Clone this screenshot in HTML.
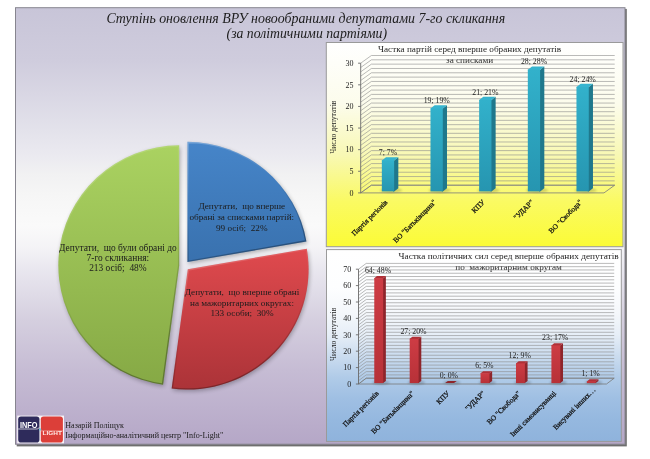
<!DOCTYPE html>
<html lang="uk"><head><meta charset="utf-8"><title>Ступінь оновлення ВРУ</title>
<style>
html,body{margin:0;padding:0;background:#fff;}
body{width:650px;height:459px;overflow:hidden;}
svg{display:block}
text{font-family:"Liberation Serif", serif;fill:#1c1c1c}
.t{font-size:9.2px;text-anchor:middle;white-space:pre}
.ax{font-size:8px;text-anchor:end}
.dl{font-size:7.8px;text-anchor:middle}
.cat{font-size:7.3px;text-anchor:end;fill:#111;stroke:#111;stroke-width:0.25px}
.g line{stroke:#8c8c8c;stroke-width:0.6}
.gm line{stroke:#777;stroke-width:0.9}
</style></head><body>
<svg width="650" height="459" viewBox="0 0 650 459">
<defs>
<linearGradient id="bg" x1="0" y1="0" x2="0" y2="1">
<stop offset="0" stop-color="#c8c5d8"/><stop offset="0.12" stop-color="#cfccdd"/><stop offset="0.28" stop-color="#e3e2eb"/><stop offset="0.34" stop-color="#ebeaf0"/><stop offset="0.38" stop-color="#f1f1f2"/><stop offset="0.43" stop-color="#f6f6f6"/><stop offset="0.5" stop-color="#fafafa"/><stop offset="0.55" stop-color="#f4f3f6"/><stop offset="0.6" stop-color="#e9e7ef"/><stop offset="0.715" stop-color="#d5cfdf"/><stop offset="0.83" stop-color="#c6bcd4"/><stop offset="1" stop-color="#b5a7c7"/>
</linearGradient>
<linearGradient id="yel" x1="0" y1="0" x2="0" y2="1">
<stop offset="0" stop-color="#ffffff"/><stop offset="0.3" stop-color="#fcfcec"/><stop offset="0.55" stop-color="#f8f8b4"/><stop offset="0.78" stop-color="#fafa62"/><stop offset="1" stop-color="#fbfb36"/>
</linearGradient>
<linearGradient id="blu" x1="0" y1="0" x2="0" y2="1">
<stop offset="0" stop-color="#ffffff"/><stop offset="0.2" stop-color="#fdfeff"/><stop offset="0.334" stop-color="#f4f7fb"/><stop offset="0.445" stop-color="#e6eef7"/><stop offset="0.555" stop-color="#cbdcef"/><stop offset="0.667" stop-color="#b0cbe8"/><stop offset="0.777" stop-color="#9fbfe3"/><stop offset="0.888" stop-color="#95b8df"/><stop offset="1" stop-color="#8fb3dc"/>
</linearGradient>
<linearGradient id="pg" x1="0" y1="0" x2="0" y2="1"><stop offset="0" stop-color="#aad261"/><stop offset="1" stop-color="#86a945"/></linearGradient>
<linearGradient id="pb" x1="0" y1="0" x2="0" y2="1"><stop offset="0" stop-color="#4685c9"/><stop offset="1" stop-color="#3971ae"/></linearGradient>
<linearGradient id="pr" x1="0" y1="0" x2="0" y2="1"><stop offset="0" stop-color="#e04a4e"/><stop offset="1" stop-color="#ab3338"/></linearGradient>
<linearGradient id="tf" x1="0" y1="0" x2="0" y2="1"><stop offset="0" stop-color="#32b1cb"/><stop offset="1" stop-color="#2695b0"/></linearGradient>
<linearGradient id="rf" x1="0" y1="0" x2="0" y2="1"><stop offset="0" stop-color="#cd3c44"/><stop offset="1" stop-color="#b73138"/></linearGradient>
<linearGradient id="bev" x1="0" y1="0" x2="0.35" y2="1"><stop offset="0" stop-color="#fff" stop-opacity="0.28"/><stop offset="0.45" stop-color="#fff" stop-opacity="0.0"/><stop offset="0.55" stop-color="#000" stop-opacity="0.0"/><stop offset="1" stop-color="#000" stop-opacity="0.3"/></linearGradient>
<filter id="sh" x="-10%" y="-10%" width="120%" height="120%"><feGaussianBlur stdDeviation="2.2"/></filter>
<filter id="sh1" x="-50%" y="-50%" width="200%" height="200%"><feGaussianBlur stdDeviation="1.2"/></filter>
</defs>

<rect x="16.7" y="8.9" width="610.1" height="437.5" fill="#6e6e6e"/>
<rect x="15.5" y="7.7" width="609.5" height="436.5" fill="url(#bg)" stroke="#87858f" stroke-width="1"/>
<text x="305.8" y="22.6" text-anchor="middle" font-style="italic" font-size="13.9">Ступінь оновлення ВРУ новообраними депутатами 7-го скликання</text>
<text x="306.8" y="38.2" text-anchor="middle" font-style="italic" font-size="13.75">(за політичними партіями)</text>
<g filter="url(#sh)" opacity="0.28" transform="translate(1,1.8)">
<path d="M187.42,262.07 L187.42,141.87 A120.8,120.2 0 0 1 306.41,241.39 Z" fill="#000"/>
<path d="M187.80,269.37 L306.80,248.68 A120.8,120.2 0 0 1 171.65,388.49 Z" fill="#000"/>
<path d="M179.21,265.56 L163.06,384.69 A120.8,120.2 0 0 1 179.21,145.36 Z" fill="#000"/>
</g>
<clipPath id="cp0"><path d="M187.42,262.07 L187.42,141.87 A120.8,120.2 0 0 1 306.41,241.39 Z"/></clipPath>
<path d="M187.42,262.07 L187.42,141.87 A120.8,120.2 0 0 1 306.41,241.39 Z" fill="url(#pb)"/>
<path d="M187.42,262.07 L187.42,141.87 A120.8,120.2 0 0 1 306.41,241.39 Z" fill="none" stroke="url(#bev)" stroke-width="2.6" clip-path="url(#cp0)"/>
<clipPath id="cp1"><path d="M187.80,269.37 L306.80,248.68 A120.8,120.2 0 0 1 171.65,388.49 Z"/></clipPath>
<path d="M187.80,269.37 L306.80,248.68 A120.8,120.2 0 0 1 171.65,388.49 Z" fill="url(#pr)"/>
<path d="M187.80,269.37 L306.80,248.68 A120.8,120.2 0 0 1 171.65,388.49 Z" fill="none" stroke="url(#bev)" stroke-width="2.6" clip-path="url(#cp1)"/>
<clipPath id="cp2"><path d="M179.21,265.56 L163.06,384.69 A120.8,120.2 0 0 1 179.21,145.36 Z"/></clipPath>
<path d="M179.21,265.56 L163.06,384.69 A120.8,120.2 0 0 1 179.21,145.36 Z" fill="url(#pg)"/>
<path d="M179.21,265.56 L163.06,384.69 A120.8,120.2 0 0 1 179.21,145.36 Z" fill="none" stroke="url(#bev)" stroke-width="2.6" clip-path="url(#cp2)"/>
<text x="241.8" y="209.2" class="t" xml:space="preserve">Депутати,  що вперше</text>
<text x="241.8" y="220.0" class="t" xml:space="preserve">обрані за списками партій:</text>
<text x="241.8" y="230.6" class="t" xml:space="preserve">99 осіб;  22%</text>
<text x="242.0" y="295.3" class="t" xml:space="preserve">Депутати,  що вперше обрані</text>
<text x="242.0" y="306.2" class="t" xml:space="preserve">на мажоритарних округах:</text>
<text x="242.0" y="316.3" class="t" xml:space="preserve">133 особи;  30%</text>
<text x="117.9" y="250.9" class="t" xml:space="preserve" style="font-size:9.42px">Депутати,  що були обрані до</text>
<text x="117.9" y="261.0" class="t" xml:space="preserve" style="font-size:9.42px">7-го скликання:</text>
<text x="117.9" y="271.3" class="t" xml:space="preserve" style="font-size:9.42px">213 осіб;  48%</text>
<rect x="326.3" y="42.5" width="296.7" height="204.2" fill="url(#yel)" stroke="#9a9a9a" stroke-width="1"/>
<text x="469.6" y="51.6" class="t" xml:space="preserve">Частка партій серед вперше обраних депутатів</text>
<text x="469.6" y="62.6" class="t" xml:space="preserve">за списками</text>
<g class="g">
<line x1="360.70" y1="192.90" x2="371.40" y2="185.20" stroke="rgba(60,60,45,0.52)" stroke-width="0.8"/>
<line x1="371.40" y1="185.20" x2="614.70" y2="185.20" stroke="rgba(60,60,45,0.52)" stroke-width="0.8"/>
<line x1="360.70" y1="188.58" x2="371.40" y2="180.88" stroke="rgba(70,70,55,0.30)" stroke-width="0.5"/>
<line x1="371.40" y1="180.88" x2="614.70" y2="180.88" stroke="rgba(70,70,55,0.30)" stroke-width="0.5"/>
<line x1="360.70" y1="184.25" x2="371.40" y2="176.55" stroke="rgba(70,70,55,0.30)" stroke-width="0.5"/>
<line x1="371.40" y1="176.55" x2="614.70" y2="176.55" stroke="rgba(70,70,55,0.30)" stroke-width="0.5"/>
<line x1="360.70" y1="179.93" x2="371.40" y2="172.23" stroke="rgba(70,70,55,0.30)" stroke-width="0.5"/>
<line x1="371.40" y1="172.23" x2="614.70" y2="172.23" stroke="rgba(70,70,55,0.30)" stroke-width="0.5"/>
<line x1="360.70" y1="175.61" x2="371.40" y2="167.91" stroke="rgba(70,70,55,0.30)" stroke-width="0.5"/>
<line x1="371.40" y1="167.91" x2="614.70" y2="167.91" stroke="rgba(70,70,55,0.30)" stroke-width="0.5"/>
<line x1="360.70" y1="171.28" x2="371.40" y2="163.58" stroke="rgba(60,60,45,0.52)" stroke-width="0.8"/>
<line x1="371.40" y1="163.58" x2="614.70" y2="163.58" stroke="rgba(60,60,45,0.52)" stroke-width="0.8"/>
<line x1="360.70" y1="166.96" x2="371.40" y2="159.26" stroke="rgba(70,70,55,0.30)" stroke-width="0.5"/>
<line x1="371.40" y1="159.26" x2="614.70" y2="159.26" stroke="rgba(70,70,55,0.30)" stroke-width="0.5"/>
<line x1="360.70" y1="162.64" x2="371.40" y2="154.94" stroke="rgba(70,70,55,0.30)" stroke-width="0.5"/>
<line x1="371.40" y1="154.94" x2="614.70" y2="154.94" stroke="rgba(70,70,55,0.30)" stroke-width="0.5"/>
<line x1="360.70" y1="158.31" x2="371.40" y2="150.61" stroke="rgba(70,70,55,0.30)" stroke-width="0.5"/>
<line x1="371.40" y1="150.61" x2="614.70" y2="150.61" stroke="rgba(70,70,55,0.30)" stroke-width="0.5"/>
<line x1="360.70" y1="153.99" x2="371.40" y2="146.29" stroke="rgba(70,70,55,0.30)" stroke-width="0.5"/>
<line x1="371.40" y1="146.29" x2="614.70" y2="146.29" stroke="rgba(70,70,55,0.30)" stroke-width="0.5"/>
<line x1="360.70" y1="149.67" x2="371.40" y2="141.97" stroke="rgba(60,60,45,0.52)" stroke-width="0.8"/>
<line x1="371.40" y1="141.97" x2="614.70" y2="141.97" stroke="rgba(60,60,45,0.52)" stroke-width="0.8"/>
<line x1="360.70" y1="145.34" x2="371.40" y2="137.64" stroke="rgba(70,70,55,0.30)" stroke-width="0.5"/>
<line x1="371.40" y1="137.64" x2="614.70" y2="137.64" stroke="rgba(70,70,55,0.30)" stroke-width="0.5"/>
<line x1="360.70" y1="141.02" x2="371.40" y2="133.32" stroke="rgba(70,70,55,0.30)" stroke-width="0.5"/>
<line x1="371.40" y1="133.32" x2="614.70" y2="133.32" stroke="rgba(70,70,55,0.30)" stroke-width="0.5"/>
<line x1="360.70" y1="136.70" x2="371.40" y2="129.00" stroke="rgba(70,70,55,0.30)" stroke-width="0.5"/>
<line x1="371.40" y1="129.00" x2="614.70" y2="129.00" stroke="rgba(70,70,55,0.30)" stroke-width="0.5"/>
<line x1="360.70" y1="132.37" x2="371.40" y2="124.67" stroke="rgba(70,70,55,0.30)" stroke-width="0.5"/>
<line x1="371.40" y1="124.67" x2="614.70" y2="124.67" stroke="rgba(70,70,55,0.30)" stroke-width="0.5"/>
<line x1="360.70" y1="128.05" x2="371.40" y2="120.35" stroke="rgba(60,60,45,0.52)" stroke-width="0.8"/>
<line x1="371.40" y1="120.35" x2="614.70" y2="120.35" stroke="rgba(60,60,45,0.52)" stroke-width="0.8"/>
<line x1="360.70" y1="123.73" x2="371.40" y2="116.03" stroke="rgba(70,70,55,0.30)" stroke-width="0.5"/>
<line x1="371.40" y1="116.03" x2="614.70" y2="116.03" stroke="rgba(70,70,55,0.30)" stroke-width="0.5"/>
<line x1="360.70" y1="119.40" x2="371.40" y2="111.70" stroke="rgba(70,70,55,0.30)" stroke-width="0.5"/>
<line x1="371.40" y1="111.70" x2="614.70" y2="111.70" stroke="rgba(70,70,55,0.30)" stroke-width="0.5"/>
<line x1="360.70" y1="115.08" x2="371.40" y2="107.38" stroke="rgba(70,70,55,0.30)" stroke-width="0.5"/>
<line x1="371.40" y1="107.38" x2="614.70" y2="107.38" stroke="rgba(70,70,55,0.30)" stroke-width="0.5"/>
<line x1="360.70" y1="110.76" x2="371.40" y2="103.06" stroke="rgba(70,70,55,0.30)" stroke-width="0.5"/>
<line x1="371.40" y1="103.06" x2="614.70" y2="103.06" stroke="rgba(70,70,55,0.30)" stroke-width="0.5"/>
<line x1="360.70" y1="106.43" x2="371.40" y2="98.73" stroke="rgba(60,60,45,0.52)" stroke-width="0.8"/>
<line x1="371.40" y1="98.73" x2="614.70" y2="98.73" stroke="rgba(60,60,45,0.52)" stroke-width="0.8"/>
<line x1="360.70" y1="102.11" x2="371.40" y2="94.41" stroke="rgba(70,70,55,0.30)" stroke-width="0.5"/>
<line x1="371.40" y1="94.41" x2="614.70" y2="94.41" stroke="rgba(70,70,55,0.30)" stroke-width="0.5"/>
<line x1="360.70" y1="97.79" x2="371.40" y2="90.09" stroke="rgba(70,70,55,0.30)" stroke-width="0.5"/>
<line x1="371.40" y1="90.09" x2="614.70" y2="90.09" stroke="rgba(70,70,55,0.30)" stroke-width="0.5"/>
<line x1="360.70" y1="93.46" x2="371.40" y2="85.76" stroke="rgba(70,70,55,0.30)" stroke-width="0.5"/>
<line x1="371.40" y1="85.76" x2="614.70" y2="85.76" stroke="rgba(70,70,55,0.30)" stroke-width="0.5"/>
<line x1="360.70" y1="89.14" x2="371.40" y2="81.44" stroke="rgba(70,70,55,0.30)" stroke-width="0.5"/>
<line x1="371.40" y1="81.44" x2="614.70" y2="81.44" stroke="rgba(70,70,55,0.30)" stroke-width="0.5"/>
<line x1="360.70" y1="84.82" x2="371.40" y2="77.12" stroke="rgba(60,60,45,0.52)" stroke-width="0.8"/>
<line x1="371.40" y1="77.12" x2="614.70" y2="77.12" stroke="rgba(60,60,45,0.52)" stroke-width="0.8"/>
<line x1="360.70" y1="80.49" x2="371.40" y2="72.79" stroke="rgba(70,70,55,0.30)" stroke-width="0.5"/>
<line x1="371.40" y1="72.79" x2="614.70" y2="72.79" stroke="rgba(70,70,55,0.30)" stroke-width="0.5"/>
<line x1="360.70" y1="76.17" x2="371.40" y2="68.47" stroke="rgba(70,70,55,0.30)" stroke-width="0.5"/>
<line x1="371.40" y1="68.47" x2="614.70" y2="68.47" stroke="rgba(70,70,55,0.30)" stroke-width="0.5"/>
<line x1="360.70" y1="71.85" x2="371.40" y2="64.15" stroke="rgba(70,70,55,0.30)" stroke-width="0.5"/>
<line x1="371.40" y1="64.15" x2="614.70" y2="64.15" stroke="rgba(70,70,55,0.30)" stroke-width="0.5"/>
<line x1="360.70" y1="67.52" x2="371.40" y2="59.82" stroke="rgba(70,70,55,0.30)" stroke-width="0.5"/>
<line x1="371.40" y1="59.82" x2="614.70" y2="59.82" stroke="rgba(70,70,55,0.30)" stroke-width="0.5"/>
<line x1="360.70" y1="63.20" x2="371.40" y2="55.50" stroke="rgba(60,60,45,0.52)" stroke-width="0.8"/>
<line x1="371.40" y1="55.50" x2="614.70" y2="55.50" stroke="rgba(60,60,45,0.52)" stroke-width="0.8"/>
</g>
<path d="M360.7,192.9 L604.0,192.9 L614.7,185.20000000000002 L371.4,185.20000000000002 Z" fill="none" stroke="#7a7a7a" stroke-width="0.8"/>
<line x1="360.7" y1="192.9" x2="360.7" y2="63.2" stroke="#6a6a6a" stroke-width="0.9"/>
<line x1="358.09999999999997" y1="192.90" x2="360.7" y2="192.90" stroke="#6a6a6a" stroke-width="0.9"/>
<text x="353.4" y="195.60" class="ax">0</text>
<line x1="358.09999999999997" y1="171.28" x2="360.7" y2="171.28" stroke="#6a6a6a" stroke-width="0.9"/>
<text x="353.4" y="173.98" class="ax">5</text>
<line x1="358.09999999999997" y1="149.67" x2="360.7" y2="149.67" stroke="#6a6a6a" stroke-width="0.9"/>
<text x="353.4" y="152.37" class="ax">10</text>
<line x1="358.09999999999997" y1="128.05" x2="360.7" y2="128.05" stroke="#6a6a6a" stroke-width="0.9"/>
<text x="353.4" y="130.75" class="ax">15</text>
<line x1="358.09999999999997" y1="106.43" x2="360.7" y2="106.43" stroke="#6a6a6a" stroke-width="0.9"/>
<text x="353.4" y="109.13" class="ax">20</text>
<line x1="358.09999999999997" y1="84.82" x2="360.7" y2="84.82" stroke="#6a6a6a" stroke-width="0.9"/>
<text x="353.4" y="87.52" class="ax">25</text>
<line x1="358.09999999999997" y1="63.20" x2="360.7" y2="63.20" stroke="#6a6a6a" stroke-width="0.9"/>
<text x="353.4" y="65.90" class="ax">30</text>
<text transform="translate(335.5,127.2) rotate(-90)" font-size="7.7" text-anchor="middle">Число депутатів</text>
<ellipse cx="391.08" cy="190.30" rx="11.25" ry="2.2" fill="#000" opacity="0.18" filter="url(#sh1)"/>
<path d="M393.13,160.44 L394.13,160.44 L398.33,157.24 L398.33,188.20 L394.13,191.40 L393.13,191.40 Z" fill="#1f788c"/>
<path d="M381.83,160.94 L394.13,160.94 L394.13,160.44 L398.33,157.24 L386.03,157.24 L381.83,160.44 Z" fill="#36b4cf"/>
<rect x="381.83" y="160.44" width="12.30" height="30.96" fill="url(#tf)"/>
<text x="388.08" y="155.24" class="dl">7; 7%</text>
<text transform="translate(388.03,202.70) rotate(-45)" class="cat">Партія регіонів</text>
<ellipse cx="439.74" cy="190.30" rx="11.25" ry="2.2" fill="#000" opacity="0.18" filter="url(#sh1)"/>
<path d="M441.79,108.56 L442.79,108.56 L446.99,105.36 L446.99,188.20 L442.79,191.40 L441.79,191.40 Z" fill="#1f788c"/>
<path d="M430.49,109.06 L442.79,109.06 L442.79,108.56 L446.99,105.36 L434.69,105.36 L430.49,108.56 Z" fill="#36b4cf"/>
<rect x="430.49" y="108.56" width="12.30" height="82.84" fill="url(#tf)"/>
<text x="436.74" y="103.36" class="dl">19; 19%</text>
<text transform="translate(436.69,202.70) rotate(-45)" class="cat">ВО "Батьківщина"</text>
<ellipse cx="488.40" cy="190.30" rx="11.25" ry="2.2" fill="#000" opacity="0.18" filter="url(#sh1)"/>
<path d="M490.45,99.91 L491.45,99.91 L495.65,96.71 L495.65,188.20 L491.45,191.40 L490.45,191.40 Z" fill="#1f788c"/>
<path d="M479.15,100.41 L491.45,100.41 L491.45,99.91 L495.65,96.71 L483.35,96.71 L479.15,99.91 Z" fill="#36b4cf"/>
<rect x="479.15" y="99.91" width="12.30" height="91.49" fill="url(#tf)"/>
<text x="485.40" y="94.71" class="dl">21; 21%</text>
<text transform="translate(485.35,202.70) rotate(-45)" class="cat">КПУ</text>
<ellipse cx="537.06" cy="190.30" rx="11.25" ry="2.2" fill="#000" opacity="0.18" filter="url(#sh1)"/>
<path d="M539.11,69.65 L540.11,69.65 L544.31,66.45 L544.31,188.20 L540.11,191.40 L539.11,191.40 Z" fill="#1f788c"/>
<path d="M527.81,70.15 L540.11,70.15 L540.11,69.65 L544.31,66.45 L532.01,66.45 L527.81,69.65 Z" fill="#36b4cf"/>
<rect x="527.81" y="69.65" width="12.30" height="121.75" fill="url(#tf)"/>
<text x="534.06" y="64.45" class="dl">28; 28%</text>
<text transform="translate(534.01,202.70) rotate(-45)" class="cat">"УДАР"</text>
<ellipse cx="585.72" cy="190.30" rx="11.25" ry="2.2" fill="#000" opacity="0.18" filter="url(#sh1)"/>
<path d="M587.77,86.94 L588.77,86.94 L592.97,83.74 L592.97,188.20 L588.77,191.40 L587.77,191.40 Z" fill="#1f788c"/>
<path d="M576.47,87.44 L588.77,87.44 L588.77,86.94 L592.97,83.74 L580.67,83.74 L576.47,86.94 Z" fill="#36b4cf"/>
<rect x="576.47" y="86.94" width="12.30" height="104.46" fill="url(#tf)"/>
<text x="582.72" y="81.74" class="dl">24; 24%</text>
<text transform="translate(582.67,202.70) rotate(-45)" class="cat">ВО "Свобода"</text>
<rect x="326.5" y="249.6" width="294.79999999999995" height="191.79999999999998" fill="url(#blu)" stroke="#9a9a9a" stroke-width="1"/>
<text x="508.6" y="259.0" class="t" xml:space="preserve" style="font-size:9.26px">Частка політичних сил серед вперше обраних депутатів</text>
<text x="508.6" y="270.4" class="t" xml:space="preserve">по  мажоритарним округам</text>
<g class="g">
<line x1="358.50" y1="384.00" x2="366.20" y2="378.20" stroke="rgba(80,80,85,0.37)" stroke-width="0.8"/>
<line x1="366.20" y1="378.20" x2="614.20" y2="378.20" stroke="rgba(80,80,85,0.37)" stroke-width="0.8"/>
<line x1="358.50" y1="380.72" x2="366.20" y2="374.92" stroke="rgba(90,90,95,0.17)" stroke-width="0.5"/>
<line x1="366.20" y1="374.92" x2="614.20" y2="374.92" stroke="rgba(90,90,95,0.17)" stroke-width="0.5"/>
<line x1="358.50" y1="377.44" x2="366.20" y2="371.64" stroke="rgba(90,90,95,0.17)" stroke-width="0.5"/>
<line x1="366.20" y1="371.64" x2="614.20" y2="371.64" stroke="rgba(90,90,95,0.17)" stroke-width="0.5"/>
<line x1="358.50" y1="374.16" x2="366.20" y2="368.36" stroke="rgba(90,90,95,0.17)" stroke-width="0.5"/>
<line x1="366.20" y1="368.36" x2="614.20" y2="368.36" stroke="rgba(90,90,95,0.17)" stroke-width="0.5"/>
<line x1="358.50" y1="370.88" x2="366.20" y2="365.08" stroke="rgba(90,90,95,0.17)" stroke-width="0.5"/>
<line x1="366.20" y1="365.08" x2="614.20" y2="365.08" stroke="rgba(90,90,95,0.17)" stroke-width="0.5"/>
<line x1="358.50" y1="367.60" x2="366.20" y2="361.80" stroke="rgba(80,80,85,0.37)" stroke-width="0.8"/>
<line x1="366.20" y1="361.80" x2="614.20" y2="361.80" stroke="rgba(80,80,85,0.37)" stroke-width="0.8"/>
<line x1="358.50" y1="364.32" x2="366.20" y2="358.52" stroke="rgba(90,90,95,0.17)" stroke-width="0.5"/>
<line x1="366.20" y1="358.52" x2="614.20" y2="358.52" stroke="rgba(90,90,95,0.17)" stroke-width="0.5"/>
<line x1="358.50" y1="361.04" x2="366.20" y2="355.24" stroke="rgba(90,90,95,0.17)" stroke-width="0.5"/>
<line x1="366.20" y1="355.24" x2="614.20" y2="355.24" stroke="rgba(90,90,95,0.17)" stroke-width="0.5"/>
<line x1="358.50" y1="357.76" x2="366.20" y2="351.96" stroke="rgba(90,90,95,0.17)" stroke-width="0.5"/>
<line x1="366.20" y1="351.96" x2="614.20" y2="351.96" stroke="rgba(90,90,95,0.17)" stroke-width="0.5"/>
<line x1="358.50" y1="354.48" x2="366.20" y2="348.68" stroke="rgba(90,90,95,0.17)" stroke-width="0.5"/>
<line x1="366.20" y1="348.68" x2="614.20" y2="348.68" stroke="rgba(90,90,95,0.17)" stroke-width="0.5"/>
<line x1="358.50" y1="351.20" x2="366.20" y2="345.40" stroke="rgba(80,80,85,0.37)" stroke-width="0.8"/>
<line x1="366.20" y1="345.40" x2="614.20" y2="345.40" stroke="rgba(80,80,85,0.37)" stroke-width="0.8"/>
<line x1="358.50" y1="347.92" x2="366.20" y2="342.12" stroke="rgba(90,90,95,0.17)" stroke-width="0.5"/>
<line x1="366.20" y1="342.12" x2="614.20" y2="342.12" stroke="rgba(90,90,95,0.17)" stroke-width="0.5"/>
<line x1="358.50" y1="344.64" x2="366.20" y2="338.84" stroke="rgba(90,90,95,0.17)" stroke-width="0.5"/>
<line x1="366.20" y1="338.84" x2="614.20" y2="338.84" stroke="rgba(90,90,95,0.17)" stroke-width="0.5"/>
<line x1="358.50" y1="341.36" x2="366.20" y2="335.56" stroke="rgba(90,90,95,0.17)" stroke-width="0.5"/>
<line x1="366.20" y1="335.56" x2="614.20" y2="335.56" stroke="rgba(90,90,95,0.17)" stroke-width="0.5"/>
<line x1="358.50" y1="338.08" x2="366.20" y2="332.28" stroke="rgba(90,90,95,0.17)" stroke-width="0.5"/>
<line x1="366.20" y1="332.28" x2="614.20" y2="332.28" stroke="rgba(90,90,95,0.17)" stroke-width="0.5"/>
<line x1="358.50" y1="334.80" x2="366.20" y2="329.00" stroke="rgba(80,80,85,0.37)" stroke-width="0.8"/>
<line x1="366.20" y1="329.00" x2="614.20" y2="329.00" stroke="rgba(80,80,85,0.37)" stroke-width="0.8"/>
<line x1="358.50" y1="331.52" x2="366.20" y2="325.72" stroke="rgba(90,90,95,0.17)" stroke-width="0.5"/>
<line x1="366.20" y1="325.72" x2="614.20" y2="325.72" stroke="rgba(90,90,95,0.17)" stroke-width="0.5"/>
<line x1="358.50" y1="328.24" x2="366.20" y2="322.44" stroke="rgba(90,90,95,0.17)" stroke-width="0.5"/>
<line x1="366.20" y1="322.44" x2="614.20" y2="322.44" stroke="rgba(90,90,95,0.17)" stroke-width="0.5"/>
<line x1="358.50" y1="324.96" x2="366.20" y2="319.16" stroke="rgba(90,90,95,0.17)" stroke-width="0.5"/>
<line x1="366.20" y1="319.16" x2="614.20" y2="319.16" stroke="rgba(90,90,95,0.17)" stroke-width="0.5"/>
<line x1="358.50" y1="321.68" x2="366.20" y2="315.88" stroke="rgba(90,90,95,0.17)" stroke-width="0.5"/>
<line x1="366.20" y1="315.88" x2="614.20" y2="315.88" stroke="rgba(90,90,95,0.17)" stroke-width="0.5"/>
<line x1="358.50" y1="318.40" x2="366.20" y2="312.60" stroke="rgba(80,80,85,0.37)" stroke-width="0.8"/>
<line x1="366.20" y1="312.60" x2="614.20" y2="312.60" stroke="rgba(80,80,85,0.37)" stroke-width="0.8"/>
<line x1="358.50" y1="315.12" x2="366.20" y2="309.32" stroke="rgba(90,90,95,0.17)" stroke-width="0.5"/>
<line x1="366.20" y1="309.32" x2="614.20" y2="309.32" stroke="rgba(90,90,95,0.17)" stroke-width="0.5"/>
<line x1="358.50" y1="311.84" x2="366.20" y2="306.04" stroke="rgba(90,90,95,0.17)" stroke-width="0.5"/>
<line x1="366.20" y1="306.04" x2="614.20" y2="306.04" stroke="rgba(90,90,95,0.17)" stroke-width="0.5"/>
<line x1="358.50" y1="308.56" x2="366.20" y2="302.76" stroke="rgba(90,90,95,0.17)" stroke-width="0.5"/>
<line x1="366.20" y1="302.76" x2="614.20" y2="302.76" stroke="rgba(90,90,95,0.17)" stroke-width="0.5"/>
<line x1="358.50" y1="305.28" x2="366.20" y2="299.48" stroke="rgba(90,90,95,0.17)" stroke-width="0.5"/>
<line x1="366.20" y1="299.48" x2="614.20" y2="299.48" stroke="rgba(90,90,95,0.17)" stroke-width="0.5"/>
<line x1="358.50" y1="302.00" x2="366.20" y2="296.20" stroke="rgba(80,80,85,0.37)" stroke-width="0.8"/>
<line x1="366.20" y1="296.20" x2="614.20" y2="296.20" stroke="rgba(80,80,85,0.37)" stroke-width="0.8"/>
<line x1="358.50" y1="298.72" x2="366.20" y2="292.92" stroke="rgba(90,90,95,0.17)" stroke-width="0.5"/>
<line x1="366.20" y1="292.92" x2="614.20" y2="292.92" stroke="rgba(90,90,95,0.17)" stroke-width="0.5"/>
<line x1="358.50" y1="295.44" x2="366.20" y2="289.64" stroke="rgba(90,90,95,0.17)" stroke-width="0.5"/>
<line x1="366.20" y1="289.64" x2="614.20" y2="289.64" stroke="rgba(90,90,95,0.17)" stroke-width="0.5"/>
<line x1="358.50" y1="292.16" x2="366.20" y2="286.36" stroke="rgba(90,90,95,0.17)" stroke-width="0.5"/>
<line x1="366.20" y1="286.36" x2="614.20" y2="286.36" stroke="rgba(90,90,95,0.17)" stroke-width="0.5"/>
<line x1="358.50" y1="288.88" x2="366.20" y2="283.08" stroke="rgba(90,90,95,0.17)" stroke-width="0.5"/>
<line x1="366.20" y1="283.08" x2="614.20" y2="283.08" stroke="rgba(90,90,95,0.17)" stroke-width="0.5"/>
<line x1="358.50" y1="285.60" x2="366.20" y2="279.80" stroke="rgba(80,80,85,0.37)" stroke-width="0.8"/>
<line x1="366.20" y1="279.80" x2="614.20" y2="279.80" stroke="rgba(80,80,85,0.37)" stroke-width="0.8"/>
<line x1="358.50" y1="282.32" x2="366.20" y2="276.52" stroke="rgba(90,90,95,0.17)" stroke-width="0.5"/>
<line x1="366.20" y1="276.52" x2="614.20" y2="276.52" stroke="rgba(90,90,95,0.17)" stroke-width="0.5"/>
<line x1="358.50" y1="279.04" x2="366.20" y2="273.24" stroke="rgba(90,90,95,0.17)" stroke-width="0.5"/>
<line x1="366.20" y1="273.24" x2="614.20" y2="273.24" stroke="rgba(90,90,95,0.17)" stroke-width="0.5"/>
<line x1="358.50" y1="275.76" x2="366.20" y2="269.96" stroke="rgba(90,90,95,0.17)" stroke-width="0.5"/>
<line x1="366.20" y1="269.96" x2="614.20" y2="269.96" stroke="rgba(90,90,95,0.17)" stroke-width="0.5"/>
<line x1="358.50" y1="272.48" x2="366.20" y2="266.68" stroke="rgba(90,90,95,0.17)" stroke-width="0.5"/>
<line x1="366.20" y1="266.68" x2="614.20" y2="266.68" stroke="rgba(90,90,95,0.17)" stroke-width="0.5"/>
<line x1="358.50" y1="269.20" x2="366.20" y2="263.40" stroke="rgba(80,80,85,0.37)" stroke-width="0.8"/>
<line x1="366.20" y1="263.40" x2="614.20" y2="263.40" stroke="rgba(80,80,85,0.37)" stroke-width="0.8"/>
</g>
<path d="M358.5,384.0 L606.5,384.0 L614.2,378.2 L366.2,378.2 Z" fill="none" stroke="#7a7a7a" stroke-width="0.8"/>
<line x1="358.5" y1="384.0" x2="358.5" y2="269.2" stroke="#6a6a6a" stroke-width="0.9"/>
<line x1="355.9" y1="384.00" x2="358.5" y2="384.00" stroke="#6a6a6a" stroke-width="0.9"/>
<text x="351.2" y="386.70" class="ax">0</text>
<line x1="355.9" y1="367.60" x2="358.5" y2="367.60" stroke="#6a6a6a" stroke-width="0.9"/>
<text x="351.2" y="370.30" class="ax">10</text>
<line x1="355.9" y1="351.20" x2="358.5" y2="351.20" stroke="#6a6a6a" stroke-width="0.9"/>
<text x="351.2" y="353.90" class="ax">20</text>
<line x1="355.9" y1="334.80" x2="358.5" y2="334.80" stroke="#6a6a6a" stroke-width="0.9"/>
<text x="351.2" y="337.50" class="ax">30</text>
<line x1="355.9" y1="318.40" x2="358.5" y2="318.40" stroke="#6a6a6a" stroke-width="0.9"/>
<text x="351.2" y="321.10" class="ax">40</text>
<line x1="355.9" y1="302.00" x2="358.5" y2="302.00" stroke="#6a6a6a" stroke-width="0.9"/>
<text x="351.2" y="304.70" class="ax">50</text>
<line x1="355.9" y1="285.60" x2="358.5" y2="285.60" stroke="#6a6a6a" stroke-width="0.9"/>
<text x="351.2" y="288.30" class="ax">60</text>
<line x1="355.9" y1="269.20" x2="358.5" y2="269.20" stroke="#6a6a6a" stroke-width="0.9"/>
<text x="351.2" y="271.90" class="ax">70</text>
<text transform="translate(335.5,334.3) rotate(-90)" font-size="7.7" text-anchor="middle">Число депутатів</text>
<ellipse cx="381.06" cy="382.55" rx="8.80" ry="2.2" fill="#000" opacity="0.18" filter="url(#sh1)"/>
<path d="M382.16,278.14 L383.16,278.14 L385.86,276.04 L385.86,381.00 L383.16,383.10 L382.16,383.10 Z" fill="#8e252b"/>
<path d="M374.26,278.64 L383.16,278.64 L383.16,278.14 L385.86,276.04 L376.96,276.04 L374.26,278.14 Z" fill="#b03037"/>
<rect x="374.26" y="278.14" width="8.90" height="104.96" fill="url(#rf)"/>
<text x="378.06" y="273.14" class="dl">64; 48%</text>
<text transform="translate(379.21,393.80) rotate(-45)" class="cat">Партія регіонів</text>
<ellipse cx="416.49" cy="382.55" rx="8.80" ry="2.2" fill="#000" opacity="0.18" filter="url(#sh1)"/>
<path d="M417.59,338.82 L418.59,338.82 L421.29,336.72 L421.29,381.00 L418.59,383.10 L417.59,383.10 Z" fill="#8e252b"/>
<path d="M409.69,339.32 L418.59,339.32 L418.59,338.82 L421.29,336.72 L412.39,336.72 L409.69,338.82 Z" fill="#b03037"/>
<rect x="409.69" y="338.82" width="8.90" height="44.28" fill="url(#rf)"/>
<text x="413.49" y="333.82" class="dl">27; 20%</text>
<text transform="translate(414.64,393.80) rotate(-45)" class="cat">ВО "Батьківщина"</text>
<ellipse cx="451.92" cy="382.55" rx="8.80" ry="2.2" fill="#000" opacity="0.18" filter="url(#sh1)"/>
<path d="M445.12,383.10 L454.02,383.10 L456.72,381.00 L447.82,381.00 Z" fill="#8e252b"/>
<text x="448.92" y="378.10" class="dl">0; 0%</text>
<text transform="translate(450.07,393.80) rotate(-45)" class="cat">КПУ</text>
<ellipse cx="487.35" cy="382.55" rx="8.80" ry="2.2" fill="#000" opacity="0.18" filter="url(#sh1)"/>
<path d="M488.45,373.26 L489.45,373.26 L492.15,371.16 L492.15,381.00 L489.45,383.10 L488.45,383.10 Z" fill="#8e252b"/>
<path d="M480.55,373.76 L489.45,373.76 L489.45,373.26 L492.15,371.16 L483.25,371.16 L480.55,373.26 Z" fill="#b03037"/>
<rect x="480.55" y="373.26" width="8.90" height="9.84" fill="url(#rf)"/>
<text x="484.35" y="368.26" class="dl">6; 5%</text>
<text transform="translate(485.50,393.80) rotate(-45)" class="cat">"УДАР"</text>
<ellipse cx="522.78" cy="382.55" rx="8.80" ry="2.2" fill="#000" opacity="0.18" filter="url(#sh1)"/>
<path d="M523.88,363.42 L524.88,363.42 L527.58,361.32 L527.58,381.00 L524.88,383.10 L523.88,383.10 Z" fill="#8e252b"/>
<path d="M515.98,363.92 L524.88,363.92 L524.88,363.42 L527.58,361.32 L518.68,361.32 L515.98,363.42 Z" fill="#b03037"/>
<rect x="515.98" y="363.42" width="8.90" height="19.68" fill="url(#rf)"/>
<text x="519.78" y="358.42" class="dl">12; 9%</text>
<text transform="translate(520.93,393.80) rotate(-45)" class="cat">ВО "Свобода"</text>
<ellipse cx="558.21" cy="382.55" rx="8.80" ry="2.2" fill="#000" opacity="0.18" filter="url(#sh1)"/>
<path d="M559.31,345.38 L560.31,345.38 L563.01,343.28 L563.01,381.00 L560.31,383.10 L559.31,383.10 Z" fill="#8e252b"/>
<path d="M551.41,345.88 L560.31,345.88 L560.31,345.38 L563.01,343.28 L554.11,343.28 L551.41,345.38 Z" fill="#b03037"/>
<rect x="551.41" y="345.38" width="8.90" height="37.72" fill="url(#rf)"/>
<text x="555.21" y="340.38" class="dl">23; 17%</text>
<text transform="translate(556.36,393.80) rotate(-45)" class="cat">Інші самовисуванці</text>
<ellipse cx="593.64" cy="382.55" rx="8.80" ry="2.2" fill="#000" opacity="0.18" filter="url(#sh1)"/>
<path d="M594.74,381.46 L595.74,381.46 L598.44,379.36 L598.44,381.00 L595.74,383.10 L594.74,383.10 Z" fill="#8e252b"/>
<path d="M586.84,381.96 L595.74,381.96 L595.74,381.46 L598.44,379.36 L589.54,379.36 L586.84,381.46 Z" fill="#b03037"/>
<rect x="586.84" y="381.46" width="8.90" height="1.64" fill="url(#rf)"/>
<text x="590.64" y="376.46" class="dl">1; 1%</text>
<text transform="translate(596.39,389.80) rotate(-45)" class="cat">Висувані інших<tspan style="letter-spacing:0.9px">...</tspan></text>
<rect x="17.2" y="415.6" width="46.8" height="27.7" fill="#f6f3f7"/>
<rect x="18.2" y="416.5" width="21.2" height="26" rx="2.8" fill="#2e2b5b"/>
<rect x="40.8" y="416.5" width="22.1" height="26" rx="2.8" fill="#dc3f39"/>
<path d="M18.2,429 H37.2 L39.4,427.6" fill="none" stroke="#ffffff" stroke-width="0.7"/>
<path d="M40.8,430.9 H62.9" fill="none" stroke="#f7b9b3" stroke-width="0.6"/>
<path d="M40.1,428.1 L41.4,429.5 L40.1,430.9 L38.8,429.5 Z" fill="#6fd0e0"/>
<text x="20" y="427.9" font-weight="bold" font-size="8.8" textLength="17.5" lengthAdjust="spacingAndGlyphs" style="fill:#fff;font-family:'Liberation Sans', sans-serif">INFO</text>
<text x="42.6" y="434.9" font-weight="bold" font-size="4.9" textLength="19.4" lengthAdjust="spacingAndGlyphs" style="fill:#ffe9e5;font-family:'Liberation Sans', sans-serif">LIGHT</text>
<text x="65.3" y="428.2" font-size="8">Назарій Поліщук</text>
<text x="65.3" y="437.5" font-size="8.1">Інформаційно-аналітичний центр "Info-Light"</text>
</svg></body></html>
